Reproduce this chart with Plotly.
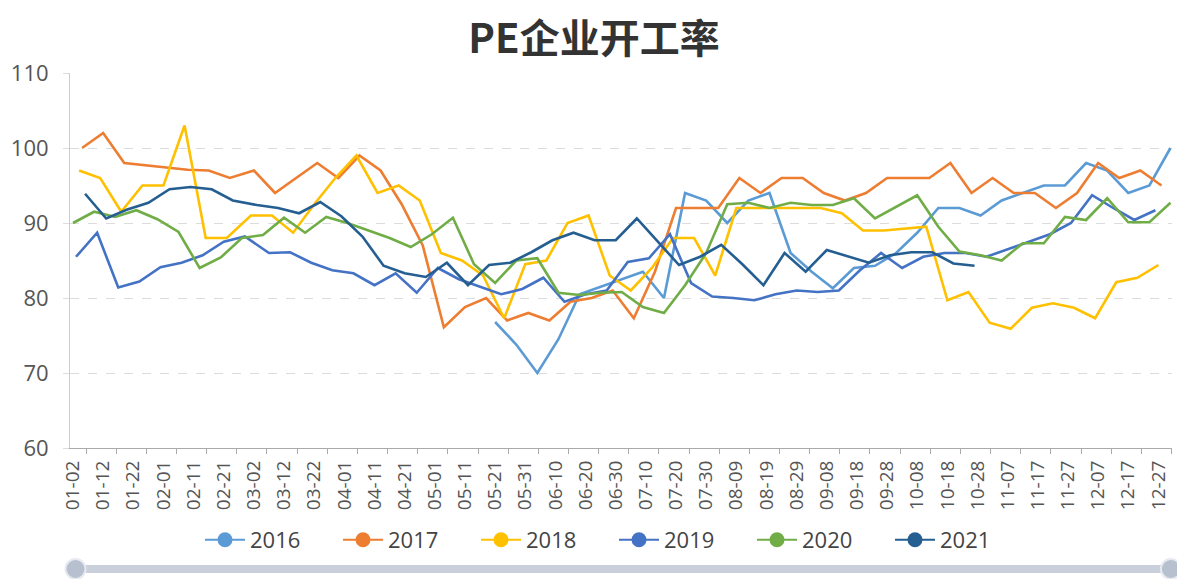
import pandas as pd
import plotly.graph_objects as go

# ---- data ----
tick_labels = ["01-02", "01-12", "01-22", "02-01", "02-11", "02-21", "03-02", "03-12", "03-22",
               "04-01", "04-11", "04-21", "05-01", "05-11", "05-21", "05-31", "06-10", "06-20",
               "06-30", "07-10", "07-20", "07-30", "08-09", "08-19", "08-29", "09-08", "09-18",
               "09-28", "10-08", "10-18", "10-28", "11-07", "11-17", "11-27", "12-07", "12-17",
               "12-27"]

years = ["2016", "2017", "2018", "2019", "2020", "2021"]
start_dates = ["2016-05-21", "2017-01-05", "2018-01-04", "2019-01-03", "2020-01-02", "2021-01-06"]

v2016 = [76.8, 73.8, 70.0, 74.5, 80.5, 81.5, 82.5, 83.5, 80.0, 94.0, 93.0, 90.0, 93.0, 94.0,
         86.0, 83.5, 81.3, 84.0, 84.3, 86.0, 88.7, 92.0, 92.0, 91.0, 93.0, 94.0, 95.0, 95.0,
         98.0, 97.0, 94.0, 95.0, 100.0]
v2017 = [100, 102, 98, 97.7, 97.4, 97.1, 97, 96, 97, 94, 96, 98, 96, 99, 97, 92.5, 87, 76.1,
         78.8, 80, 77, 78, 77, 79.5, 80, 81, 77.3, 83.5, 92, 92, 92, 96, 94, 96, 96, 94, 93, 94,
         96, 96, 96, 98, 94, 96, 94, 94, 92, 94, 98, 96, 97, 95]
v2018 = [97, 96, 91.5, 95, 95, 103, 88, 88, 91, 91, 88.7, 92.5, 96, 99, 94, 95, 93, 86, 85, 83,
         77.3, 84.5, 85, 90, 91, 83, 81, 84, 88, 88, 83, 92, 92, 92, 92, 92, 91.3, 89, 89, 89.3,
         89.5, 79.7, 80.8, 76.7, 75.9, 78.7, 79.3, 78.7, 77.3, 82.1, 82.7, 84.4]
v2019 = [85.5, 88.7, 81.4, 82.2, 84.1, 84.7, 85.7, 87.5, 88.2, 86, 86.1, 84.7, 83.7, 83.3, 81.7,
         83.3, 80.7, 84, 82.5, 81.5, 80.5, 81.2, 82.7, 79.5, 80.5, 81, 84.8, 85.3, 88.5, 82, 80.2,
         80, 79.7, 80.5, 81, 80.8, 81, 83.7, 86, 84, 85.5, 86, 86, 85.5, 86.5, 87.5, 88.5, 90,
         93.7, 92, 90.4, 91.7]
v2020 = [90, 91.5, 90.8, 91.7, 90.5, 88.8, 84, 85.4, 88, 88.4, 90.7, 88.7, 90.8, 90, 89, 88,
         86.8, 88.5, 90.7, 84.5, 82, 85, 85.3, 80.7, 80.4, 80.7, 80.8, 78.8, 78, 81.7, 86, 92.5,
         92.7, 92, 92.7, 92.4, 92.4, 93.3, 90.6, 92.2, 93.7, 89.5, 86.2, 85.7, 85, 87.3, 87.3,
         90.8, 90.4, 93.3, 90.1, 90.1, 92.7]
v2021 = [93.9, 90.6, 91.8, 92.7, 94.5, 94.8, 94.5, 93, 92.4, 92, 91.3, 92.8, 90.9, 88.2, 84.3,
         83.3, 82.8, 84.7, 81.7, 84.4, 84.7, 86.1, 87.7, 88.7, 87.7, 87.7, 90.6, 87.5, 84.4, 85.5,
         87.1, 84.5, 81.7, 86, 83.5, 86.4, 85.5, 84.7, 85.7, 86.1, 86.1, 84.6, 84.3]

series_values = [v2016, v2017, v2018, v2019, v2020, v2021]
colors = ["#5b9bd5", "#ed7d31", "#ffc000", "#4472c4", "#70ad47", "#255e91"]

# ---- figure ----
fig = go.Figure()
for name, start, vals, color in zip(years, start_dates, series_values, colors):
    dates = pd.date_range(start, periods=len(vals), freq="7D")
    x = ["2020-" + d.strftime("%m-%d") for d in dates]
    fig.add_trace(go.Scatter(x=x, y=vals, mode="lines", name=name, showlegend=False,
                             line=dict(color=color, width=2.6), hoverinfo="x+y+name"))
for name, color in zip(years, colors):
    fig.add_trace(go.Scatter(x=[None], y=[None], mode="lines+markers", name=name,
                             line=dict(color=color, width=2),
                             marker=dict(color=color, size=15)))

tick_font = "Open Sans, Noto Sans CJK SC, sans-serif"

# the page body adds an 8px margin, so the figure is 8px smaller on each axis
W, H = 1177, 571
fig.update_layout(
    width=W, height=H,
    margin=dict(l=62, r=13, t=65, b=131, autoexpand=False),
    paper_bgcolor="white", plot_bgcolor="white",
    title=dict(text="<b>PE企业开工率</b>", x=586 / W, xref="container", xanchor="center",
               y=1 - 31 / H, yref="container", yanchor="middle",
               font=dict(family="Noto Sans CJK SC, sans-serif", size=40, color="#333333")),
    legend=dict(orientation="h", x=606 / W, xref="container", xanchor="center",
                y=1 - 532 / H, yref="container", yanchor="middle",
                font=dict(family=tick_font, size=22, color="#444444"),
                entrywidth=83, itemwidth=40, bgcolor="rgba(0,0,0,0)"),
    xaxis=dict(
        type="date", automargin=False,
        range=["2020-01-01", "2020-12-31 12:00"],
        tickmode="array",
        tickvals=["2020-" + t for t in tick_labels],
        ticktext=tick_labels,
        tickangle=-90,
        ticks="",
        ticklabelstandoff=4,
        tickfont=dict(family=tick_font, size=19, color="#555555"),
        showgrid=False, zeroline=False,
        showline=True, linecolor="#aaaaaa", linewidth=1,
        minor=dict(ticks="outside", ticklen=5, tickcolor="#aaaaaa", tickwidth=1,
                   tick0="2020-01-06 08:00", dtick=10 * 86400000, showgrid=False),
    ),
    yaxis=dict(
        range=[60, 110], dtick=10, tick0=60, automargin=False,
        ticks="outside", ticklen=6, tickcolor="#dddddd",
        ticklabelstandoff=10,
        tickfont=dict(family=tick_font, size=22, color="#555555"),
        showgrid=True, gridcolor="#dcdcdc", griddash="dash", gridwidth=1,
        zeroline=False,
        showline=True, linecolor="#cccccc", linewidth=1,
    ),
)

# data-zoom slider decoration below the legend
slider_y = (440 - 561) / 375
fig.add_shape(type="rect", xref="paper", yref="paper", x0=0.004, x1=0.998,
              ysizemode="pixel", yanchor=slider_y, y0=-4, y1=4,
              fillcolor="#c9d0dc", line=dict(width=0), layer="above")
for hx in [0.005, 0.999]:
    fig.add_shape(type="circle", xref="paper", yref="paper",
                  xsizemode="pixel", xanchor=hx, x0=-10, x1=10,
                  ysizemode="pixel", yanchor=slider_y, y0=-10, y1=10,
                  fillcolor="#b7c0ce", line=dict(color="#e6eaf0", width=2), layer="above")

fig.write_html("out.html")
